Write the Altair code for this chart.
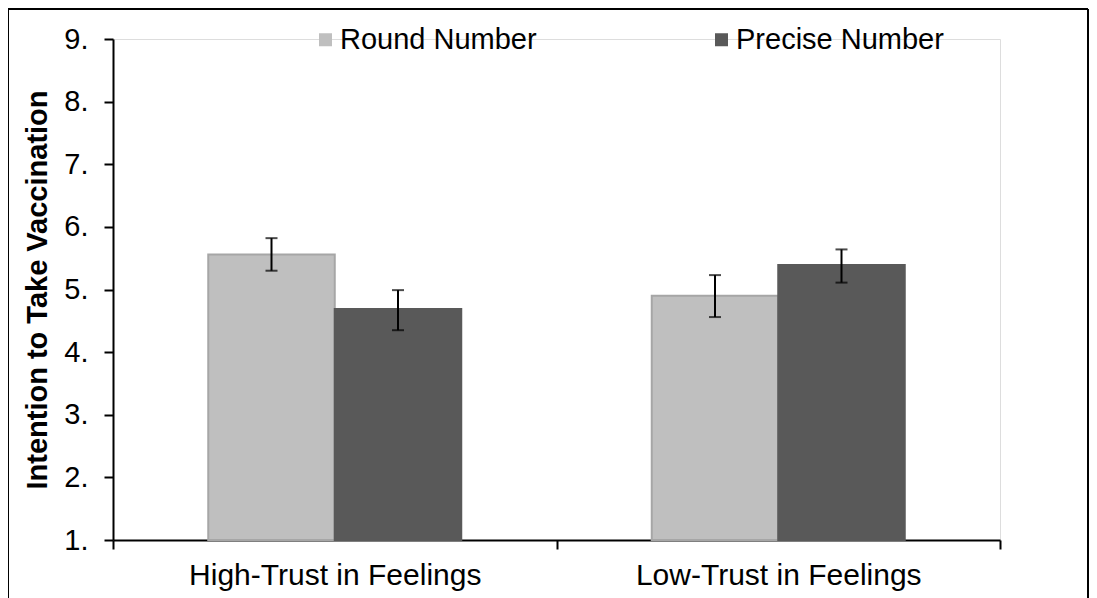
import altair as alt
import pandas as pd

groups = ["High-Trust in Feelings", "High-Trust in Feelings", "Low-Trust in Feelings", "Low-Trust in Feelings"]
conditions = ["Round Number", "Precise Number", "Round Number", "Precise Number"]
means = [5.56, 4.69, 4.90, 5.39]
lower = [5.30, 4.35, 4.56, 5.11]
upper = [5.82, 4.99, 5.23, 5.64]

cond_order = ["Round Number", "Precise Number"]
fill_colors = ["#BFBFBF", "#595959"]
stroke_colors = ["#A6A6A6", "#595959"]
y_ticks = [1, 2, 3, 4, 5, 6, 7, 8, 9]

df = pd.DataFrame({"group": groups, "condition": conditions, "mean": means,
                   "lower": lower, "upper": upper})

FONT = "Liberation Sans"
FS = 29

x_enc = alt.X("group:N", sort=None, title=None,
              scale=alt.Scale(paddingInner=0, paddingOuter=0),
              axis=alt.Axis(labelAngle=0, tickBand="extent", domainColor="black",
                            domainWidth=2, tickColor="black", tickWidth=2, tickSize=9,
                            labelFont=FONT, labelFontSize=30, labelColor="black",
                            labelPadding=11, labelLimit=0))
xo_enc = alt.XOffset("condition:N", sort=cond_order,
                     scale=alt.Scale(paddingInner=0, paddingOuter=0.753))
y_scale = alt.Scale(domain=[1, 9], zero=False, nice=False)

base = alt.Chart(df)

bars = base.mark_bar(strokeWidth=2).encode(
    x=x_enc,
    xOffset=xo_enc,
    y=alt.Y("mean:Q", scale=y_scale, title="Intention to Take Vaccination",
            axis=alt.Axis(values=y_ticks, labelExpr="datum.value + '.'", grid=False,
                          domainColor="black", domainWidth=2, tickColor="black",
                          tickWidth=2, tickSize=9, labelFont=FONT, labelFontSize=FS,
                          labelColor="black", labelPadding=16, titleFont=FONT,
                          titleFontSize=FS, titleFontWeight="bold", titleColor="black",
                          titlePadding=11)),
    y2=alt.datum(1),
    fill=alt.Fill("condition:N", sort=cond_order,
                  scale=alt.Scale(domain=cond_order, range=fill_colors),
                  legend=alt.Legend(title=None, orient="none", legendX=198, legendY=-14,
                                    direction="horizontal", symbolType="square",
                                    symbolSize=169, symbolStrokeWidth=0,
                                    columnPadding=170, labelFont=FONT,
                                    labelFontSize=FS, labelColor="black",
                                    labelOffset=0, labelLimit=0)),
    stroke=alt.Stroke("condition:N", sort=cond_order,
                      scale=alt.Scale(domain=cond_order, range=stroke_colors),
                      legend=None),
)

err = base.mark_rule(color="black", strokeWidth=2).encode(
    x=alt.X("group:N", sort=None), xOffset=xo_enc,
    y=alt.Y("lower:Q", scale=y_scale), y2="upper:Q")
cap_lo = base.mark_tick(color="black", orient="horizontal", size=12, thickness=2).encode(
    x=alt.X("group:N", sort=None), xOffset=xo_enc, y=alt.Y("lower:Q", scale=y_scale))
cap_hi = base.mark_tick(color="black", orient="horizontal", size=12, thickness=2).encode(
    x=alt.X("group:N", sort=None), xOffset=xo_enc, y=alt.Y("upper:Q", scale=y_scale))

frame_df = pd.DataFrame({"k": [0]})
frame_left = alt.Chart(frame_df).mark_rule(color="black", strokeWidth=2).encode(
    x=alt.value(-105), y=alt.value(-30), y2=alt.value(570))
frame_top = alt.Chart(frame_df).mark_rule(color="black", strokeWidth=2).encode(
    x=alt.value(-105), x2=alt.value(975), y=alt.value(-30))
frame_right = alt.Chart(frame_df).mark_rule(color="black", strokeWidth=2).encode(
    x=alt.value(975), y=alt.value(-30), y2=alt.value(570))

chart = alt.layer(bars, err, cap_lo, cap_hi, frame_left, frame_top, frame_right).properties(
    width=887, height=501,
    padding={"left": 105, "top": 31, "right": 89, "bottom": 58},
    autosize=alt.AutoSizeParams(type="none"),
).configure_view(stroke=None).configure(background="white")

chart.save("out.html", embed_options={"renderer": "svg", "actions": False})
